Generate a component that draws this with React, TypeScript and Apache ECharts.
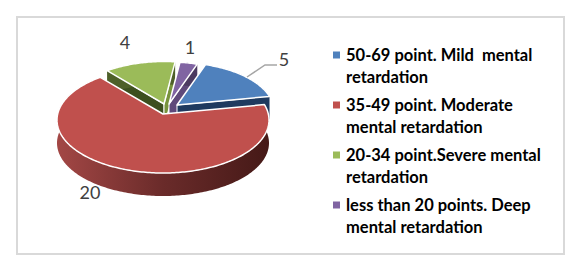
import React, { useEffect, useRef } from "react";
import * as echarts from "echarts";

const categories = [
  "50-69 point. Mild  mental\nretardation",
  "35-49 point. Moderate\nmental retardation",
  "20-34 point.Severe mental\nretardation",
  "less than 20 points. Deep\nmental retardation",
];
const values = [5, 20, 4, 1];
const colors = ["#4f81bd", "#c0504d", "#9bbb59", "#8064a2"];

// Pseudo-3D look of each exploded slice, in the same order as the values.
const apexes = [[177, 105], [163, 114], [164, 104], [169, 104]];
const radiiX = [97, 106, 97, 96];
const paintOrder = [4, 5, 2, 3];
const edgeColors = ["#1f3a5f", "#7a2f2d", "#3d4f1f", "#5f497a"];
const endEdgeColors = ["#1f3a5f", "#7a2f2d", "#77933c", "#5f497a"];
const wallColors: any[] = [
  "#1f3a5f",
  new echarts.graphic.LinearGradient(0, 0, 1, 0, [
    { offset: 0, color: "#a34745" },
    { offset: 0.5, color: "#6a2b2a" },
    { offset: 1, color: "#451917" },
  ]),
  "#4e6029",
  "#4b3a60",
];
const labelPositions = [[284, 59], [90, 192], [125, 42], [190, 47]];
const START_ANGLE = 19.5;
const DEPTH = 23;
const SQUASH = 0.5;
const CENTER_DROP = 6;

function rim(apex: number[], rx: number, deg: number) {
  const r = (deg * Math.PI) / 180;
  const s = Math.sin(r);
  const c = Math.cos(r);
  const ry = rx * SQUASH;
  const a = (s * s) / (rx * rx) + (SQUASH * SQUASH * c * c) / (ry * ry);
  const b = (2 * CENTER_DROP * SQUASH * c) / (ry * ry);
  const d = (CENTER_DROP * CENTER_DROP) / (ry * ry) - 1;
  const t = (-b + Math.sqrt(b * b - 4 * a * d)) / (2 * a);
  return [apex[0] + t * s, apex[1] - t * SQUASH * c];
}

function arc(apex: number[], rx: number, from: number, to: number) {
  const pts: number[][] = [];
  const steps = Math.max(2, Math.ceil(to - from));
  for (let i = 0; i <= steps; i++) pts.push(rim(apex, rx, from + ((to - from) * i) / steps));
  return pts;
}

const drop = (p: number[]) => [p[0], p[1] + DEPTH];

function facing(normalDeg: number) {
  return Math.cos((normalDeg * Math.PI) / 180) < 0;
}

function makeRenderItem(i: number) {
  return (_params: any, api: any) => {
    const value = api.value(0) as number;
    const total = values.reduce((x, y) => x + y, 0);
    const before = values.slice(0, i).reduce((x, y) => x + y, 0);
    const from = START_ANGLE + (before / total) * 360;
    const to = from + (value / total) * 360;
    const apex = apexes[i];
    const rx = radiiX[i];
    const top = arc(apex, rx, from, to);
    const children: any[] = [];
    const edge = (p: number[], fill: string) => ({
      type: "polygon",
      shape: { points: [apex, p, drop(p), drop(apex)] },
      style: { fill, stroke: "#ffffff", lineWidth: 1 },
    });
    if (facing(from - 90)) children.push(edge(top[0], edgeColors[i]));
    if (facing(to + 90)) children.push(edge(top[top.length - 1], endEdgeColors[i]));
    children.push({
      type: "polygon",
      shape: { points: [...top, ...top.slice().reverse().map(drop)] },
      style: { fill: wallColors[i] },
    });
    children.push({
      type: "polygon",
      shape: { points: [apex, ...top] },
      style: { fill: colors[i], stroke: "#ffffff", lineWidth: 1.5, lineJoin: "round" },
    });
    children.push({
      type: "text",
      style: {
        x: labelPositions[i][0],
        y: labelPositions[i][1],
        text: String(value),
        fill: "#404040",
        font: "18px Lato",
        align: "center",
        verticalAlign: "middle",
      },
    });
    if (i === 0) {
      children.push({
        type: "polyline",
        shape: { points: [[247, 77], [265, 65], [277, 65]] },
        style: { fill: "none", stroke: "#a6a6a6", lineWidth: 1.5 },
      });
    }
    return { type: "group", children };
  };
}

export default function App() {
  const ref = useRef<HTMLDivElement>(null);
  useEffect(() => {
    const chart = echarts.init(ref.current!, null, { renderer: "svg" });
    chart.setOption({
      animation: false,
      backgroundColor: "#ffffff",
      graphic: [
        {
          type: "rect",
          shape: { x: 17, y: 17, width: 547, height: 237 },
          style: { fill: "none", stroke: "#d9d9d9", lineWidth: 2 },
        },
      ],
      legend: {
        data: categories,
        orient: "vertical",
        left: 333,
        top: 22,
        padding: 0,
        itemWidth: 7,
        itemHeight: 7,
        itemGap: -16,
        icon: "rect",
        selectedMode: false,
        formatter: (name: string) => "\n" + name,
        textStyle: {
          fontFamily: "Lato",
          fontWeight: "bold",
          fontSize: 16.5,
          lineHeight: 22,
          color: "#000000",
          padding: [0, 0, 0, 1],
        },
      },
      series: categories.map((name, i) => ({
        type: "custom",
        name,
        coordinateSystem: "none",
        z: paintOrder[i],
        itemStyle: { color: colors[i] },
        renderItem: makeRenderItem(i),
        data: [[values[i]]],
      })),
    });
    return () => chart.dispose();
  }, []);
  return <div ref={ref} style={{ position: "absolute", left: 0, top: 0, width: 578, height: 273 }} />;
}
